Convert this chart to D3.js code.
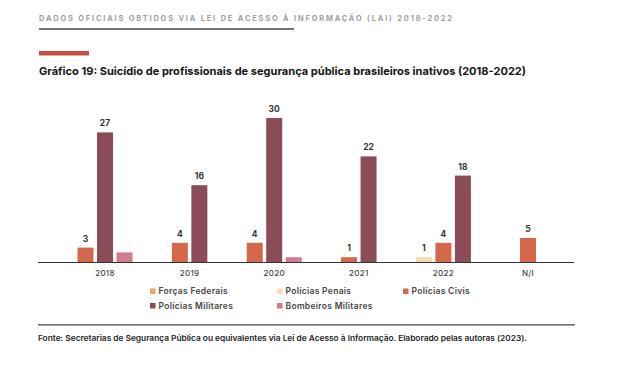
<!DOCTYPE html>
<html>
<head>
<meta charset="utf-8">
<script src="https://cdn.jsdelivr.net/npm/d3@7"></script>
<style>
  html, body { margin: 0; padding: 0; background: #fff; }
  svg { display: block; font-family: "Inter", "Lato", sans-serif; }
</style>
</head>
<body>
<div id="chart"></div>
<script>
const categories = ["2018", "2019", "2020", "2021", "2022", "N/I"];
const seriesNames = ["Forças Federais", "Polícias Penais", "Polícias Civis", "Polícias Militares", "Bombeiros Militares"];
const forcasFederais = [0, 0, 0, 0, 0, 0];
const policiasPenais = [0, 0, 0, 0, 1, 0];
const policiasCivis = [3, 4, 4, 1, 4, 5];
const policiasMilitares = [27, 16, 30, 22, 18, 0];
const bombeirosMilitares = [2, 0, 1, 0, 0, 0];
const colors = ["#e4ac5c", "#f4ddb0", "#d4684a", "#8b4b57", "#d27b8c"];
const showLabel = [true, true, true, true, false];

const values = [forcasFederais, policiasPenais, policiasCivis, policiasMilitares, bombeirosMilitares];

const W = 640, H = 373;
const svg = d3.select("#chart").append("svg")
  .attr("width", W).attr("height", H);

// header
svg.append("text")
  .attr("x", 39).attr("y", 20.5)
  .attr("font-size", 7.4).attr("font-weight", 700)
  .attr("fill", "#a0a0a0")
  .attr("textLength", 413).attr("lengthAdjust", "spacing")
  .text("DADOS OFICIAIS OBTIDOS VIA LEI DE ACESSO À INFORMAÇÃO (LAI) 2018-2022");
svg.append("line")
  .attr("x1", 39).attr("x2", 294).attr("y1", 29).attr("y2", 29)
  .attr("stroke", "#444").attr("stroke-width", 1.5);
svg.append("rect")
  .attr("x", 39).attr("y", 51).attr("width", 50).attr("height", 4.5)
  .attr("fill", "#c84e3c");
svg.append("text")
  .attr("x", 39).attr("y", 75)
  .attr("font-size", 11).attr("font-weight", 700)
  .attr("fill", "#151515")
  .attr("textLength", 487).attr("lengthAdjust", "spacingAndGlyphs")
  .text("Gráfico 19: Suicídio de profissionais de segurança pública brasileiros inativos (2018-2022)");

// scales
const baseY = 262;
const x = d3.scaleBand().domain(categories).range([62.7, 570.3]).padding(0);
const y = d3.scaleLinear().domain([0, 30]).range([baseY, baseY - 144]);

const g = svg.append("g");

categories.forEach((c, i) => {
  // only non-zero bars, centred on the category
  const keys = d3.range(seriesNames.length).filter(s => values[s][i] > 0);
  const center = x(c) + x.bandwidth() / 2;
  const step = 19.5;
  const inner = d3.scaleBand().domain(keys)
    .range([center - keys.length * step / 2, center + keys.length * step / 2])
    .paddingInner(0.18).paddingOuter(0.09);
  keys.forEach(s => {
    const v = values[s][i];
    g.append("rect")
      .attr("x", inner(s)).attr("width", inner.bandwidth())
      .attr("y", y(v)).attr("height", y(0) - y(v))
      .attr("fill", colors[s]);
    if (showLabel[s]) {
      g.append("text")
        .attr("x", inner(s) + inner.bandwidth() / 2)
        .attr("y", y(v) - 6)
        .attr("text-anchor", "middle")
        .attr("font-size", 8.5).attr("font-weight", 700)
        .attr("fill", "#333")
        .text(v);
    }
  });
});

// axis
const axis = svg.append("g")
  .attr("transform", `translate(0,${baseY})`)
  .call(d3.axisBottom(x).tickSize(0).tickPadding(8));
axis.select(".domain").remove();
axis.selectAll("text")
  .attr("font-size", 8).attr("font-weight", 500)
  .attr("letter-spacing", 0.3)
  .attr("fill", "#444").attr("font-family", "Inter, Lato, sans-serif");
svg.append("line")
  .attr("x1", 38).attr("x2", 574).attr("y1", baseY + 0.5).attr("y2", baseY + 0.5)
  .attr("stroke", "#333").attr("stroke-width", 1);

// legend
const legX = [150, 277, 403];
const legY = [288.5, 303];
seriesNames.forEach((name, s) => {
  const lx = legX[s % 3], ly = legY[Math.floor(s / 3)];
  svg.append("rect")
    .attr("x", lx).attr("y", ly).attr("width", 5.5).attr("height", 5.5)
    .attr("fill", colors[s]);
  svg.append("text")
    .attr("x", lx + 8.5).attr("y", ly + 5.6)
    .attr("font-size", 8.5).attr("font-weight", 600)
    .attr("letter-spacing", 0.3)
    .attr("fill", "#444")
    .text(name);
});

// footer
svg.append("line")
  .attr("x1", 38).attr("x2", 575).attr("y1", 324.8).attr("y2", 324.8)
  .attr("stroke", "#444").attr("stroke-width", 1.2);
svg.append("text")
  .attr("x", 38).attr("y", 341)
  .attr("font-size", 7.8).attr("font-weight", 600)
  .attr("fill", "#222")
  .attr("textLength", 489).attr("lengthAdjust", "spacingAndGlyphs")
  .text("Fonte: Secretarias de Segurança Pública ou equivalentes via Lei de Acesso à Informação. Elaborado pelas autoras (2023).");
</script>
</body>
</html>
